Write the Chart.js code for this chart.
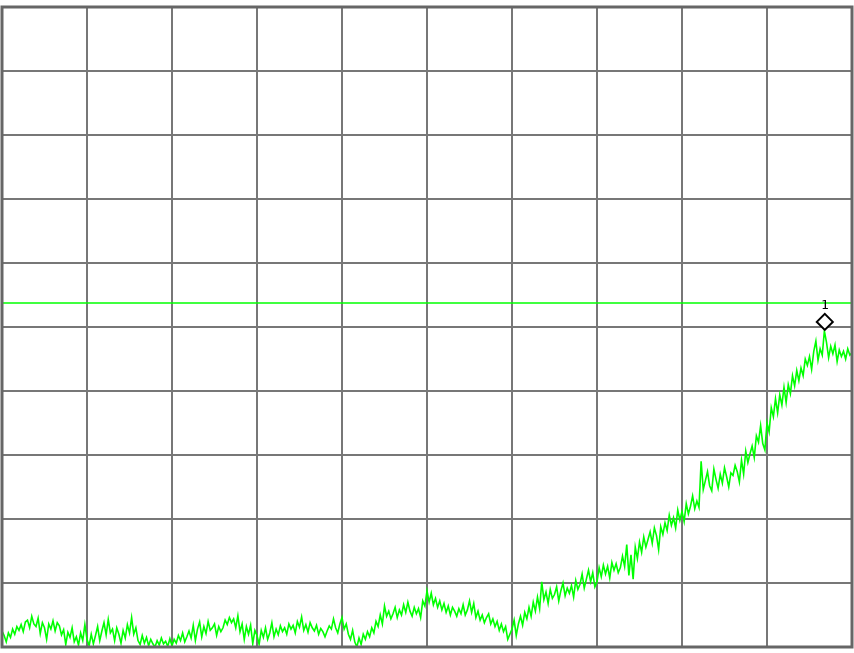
<!DOCTYPE html>
<html>
<head>
<meta charset="utf-8">
<script src="https://cdn.jsdelivr.net/npm/chart.js@4/dist/chart.umd.min.js"></script>
<style>
  html, body { margin: 0; padding: 0; background: #ffffff; }
  #wrap { width: 854px; height: 653px; }
</style>
</head>
<body>
<div id="wrap"><canvas id="c" width="854" height="653"></canvas></div>
<script>
// ---- data (screen units: 10 divisions per axis, 0..100) ----
const xDivisions = [0, 10, 20, 30, 40, 50, 60, 70, 80, 90, 100];
const yDivisions = [0, 10, 20, 30, 40, 50, 60, 70, 80, 90, 100];
const traceStep = 0.25;
const traceValues = [
  2.5, 1.8, 0.8, 2.2,  1.5, 2.8, 2.0, 3.2,  2.6, 3.5, 2.4, 3.9,  4.2, 3.0, 4.8, 3.6,  3.2, 4.5, 2.1, 3.8,
  3.0, 1.2, 3.6, 2.8,  4.1, 2.5, 3.8, 3.3,  1.9, 2.7, 0.4, 2.3,  1.5, 3.0, 0.8, 1.6,  0.3, 2.2, 1.0, 3.5,
  1.2, 0.2, 2.0, 0.5,  1.8, 3.2, 1.0, 2.5,  3.8, 1.9, 4.3, 2.2,  2.8, 1.0, 3.0, 2.0,  0.6, 2.6, 1.4, 3.5,
  2.2, 4.6, 2.0, 3.0,  1.0, 0.4, 1.8, 0.6,  1.5, 0.2, 1.2, 0.5,  0.0, 1.0, 0.3, 1.4,  0.5, 0.9, 0.1, 1.3,
  0.2, 1.2, 0.6, 1.8,  1.0, 2.2, 0.8, 1.6,  2.5, 1.4, 3.4, 1.0,  2.8, 3.9, 1.6, 3.2,  2.1, 4.0, 2.6, 3.0,
  3.6, 1.8, 3.2, 2.4,  3.0, 4.2, 3.5, 4.6,  3.8, 4.4, 3.0, 4.9,  2.4, 3.6, 1.2, 3.2,  2.0, 3.4, 0.5, 2.6,
  1.8, 0.4, 2.6, 1.5,  3.0, 1.2, 2.2, 3.8,  1.6, 2.8, 1.9, 3.3,  2.4, 3.0, 2.0, 3.6,  2.8, 3.4, 2.2, 4.0,
  3.1, 4.7, 2.6, 3.5,  2.3, 3.8, 3.0, 2.5,  3.4, 2.0, 2.9, 2.4,  1.6, 2.5, 3.3, 2.8,  4.4, 3.0, 2.2, 3.6,
  4.6, 2.8, 3.6, 2.0,  1.2, 2.6, 0.8, 0.0,  1.4, 0.4, 2.0, 1.2,  2.4, 1.6, 3.0, 2.2,  4.0, 3.2, 5.0, 3.6,
  6.4, 4.8, 5.6, 4.4,  5.2, 6.2, 4.6, 5.8,  5.0, 6.6, 5.4, 7.0,  5.6, 4.8, 6.2, 5.2,  6.0, 4.6, 7.2, 6.4,
  8.8, 7.0, 8.4, 6.6,  7.6, 6.2, 7.2, 5.8,  6.8, 5.4, 6.4, 5.0,  6.2, 5.6, 4.8, 6.0,  5.2, 6.6, 5.0, 5.8,
  7.2, 5.4, 6.8, 4.6,  5.6, 4.2, 5.0, 3.8,  4.6, 5.2, 3.6, 4.4,  3.2, 4.0, 2.6, 3.6,  2.4, 3.2, 1.2, 2.0,
  2.8, 4.2, 1.8, 3.6,  4.8, 3.4, 5.4, 4.4,  6.2, 4.8, 7.0, 5.6,  7.8, 6.0, 10.2, 7.4,  8.6, 6.8, 9.0, 7.6,
  8.2, 9.4, 7.2, 8.8,  10.0, 8.0, 9.2, 8.4,  9.6, 7.8, 10.4, 9.0,  9.8, 11.4, 9.2, 10.6,  12.0, 10.2, 11.6, 9.4,
  10.2, 12.4, 11.0, 12.8,  11.4, 12.6, 10.8, 13.2,  12.0, 13.0, 11.6, 12.4,  14.2, 12.6, 16.0, 11.2,  14.4, 10.6, 15.6, 13.8,
  16.4, 14.8, 17.2, 15.6,  16.8, 18.0, 16.2, 18.6,  17.4, 15.2, 18.8, 17.6,  19.4, 18.2, 20.6, 19.0,  20.2, 18.6, 21.4, 19.8,
  21.2, 19.6, 22.4, 20.8,  22.0, 23.6, 21.6, 22.8,  21.8, 29.0, 24.6, 26.0,  27.4, 25.2, 24.4, 27.8,  26.2, 24.8, 27.0, 25.6,
  28.0, 26.6, 25.0, 27.2,  26.8, 28.4, 27.4, 25.8,  29.2, 27.0, 30.6, 28.8,  30.2, 31.4, 29.6, 33.0,  32.0, 34.6, 31.8, 30.8,
  35.0, 33.6, 37.4, 36.0,  38.8, 36.6, 39.4, 37.8,  40.6, 38.2, 41.0, 39.6,  42.4, 40.8, 43.2, 41.6,  43.6, 42.4, 45.0, 44.0,
  45.4, 43.4, 46.2, 47.8,  44.8, 46.6, 45.6, 49.4,  47.6, 45.2, 47.0, 45.8,  47.2, 44.6, 46.4, 45.4,  46.2, 45.0, 46.6, 45.6,
  46.0
];
const refLineLevel = 53.75;
const markerX = [96.8];
const markerY = [50.8];
const markerLabels = ['1'];

// ---- build datasets ----
const tracePoints = traceValues.map((v, i) => ({ x: i * traceStep, y: v }));
const refPoints = [{ x: xDivisions[0], y: refLineLevel }, { x: xDivisions[xDivisions.length - 1], y: refLineLevel }];
const markerPoints = markerX.map((x, i) => ({ x: x, y: markerY[i] }));

const frameAndLabels = {
  id: 'frameAndLabels',
  afterDatasetsDraw(chart) {
    const { ctx, chartArea: a } = chart;
    ctx.save();
    ctx.strokeStyle = '#666666';
    ctx.lineWidth = 3;
    ctx.strokeRect(a.left, a.top, a.right - a.left, a.bottom - a.top);
    const meta = chart.getDatasetMeta(2);
    ctx.fillStyle = '#000000';
    ctx.font = '13px "DejaVu Sans Mono", monospace';
    ctx.textAlign = 'center';
    ctx.textBaseline = 'bottom';
    meta.data.forEach((pt, i) => {
      ctx.fillText(markerLabels[i], pt.x, pt.y - 10);
    });
    ctx.restore();
  }
};

new Chart(document.getElementById('c'), {
  type: 'scatter',
  data: {
    datasets: [
      {
        data: tracePoints, showLine: true, borderColor: '#00ff00', borderWidth: 1.6,
        pointRadius: 0, tension: 0, order: 3
      },
      {
        data: refPoints, showLine: true, borderColor: '#00ff00', borderWidth: 1.5,
        pointRadius: 0, order: 2
      },
      {
        data: markerPoints, showLine: false, pointStyle: 'rectRot', pointRadius: 8,
        pointBackgroundColor: '#ffffff', pointBorderColor: '#000000', pointBorderWidth: 2, order: 1
      }
    ]
  },
  plugins: [frameAndLabels],
  options: {
    responsive: false,
    animation: false,
    devicePixelRatio: 1,
    layout: { autoPadding: false, padding: { left: 2, top: 7, right: 2, bottom: 6 } },
    plugins: { legend: { display: false }, tooltip: { enabled: false } },
    scales: {
      x: {
        type: 'linear', min: 0, max: 100,
        afterBuildTicks: (s) => { s.ticks = xDivisions.map(v => ({ value: v })); },
        ticks: { display: false, padding: 0 },
        grid: { color: '#777777', lineWidth: 2, drawTicks: false },
        border: { display: false }
      },
      y: {
        type: 'linear', min: 0, max: 100,
        afterBuildTicks: (s) => { s.ticks = yDivisions.map(v => ({ value: v })); },
        ticks: { display: false, padding: 0 },
        grid: { color: '#777777', lineWidth: 2, drawTicks: false },
        border: { display: false }
      }
    }
  }
});
</script>
</body>
</html>
